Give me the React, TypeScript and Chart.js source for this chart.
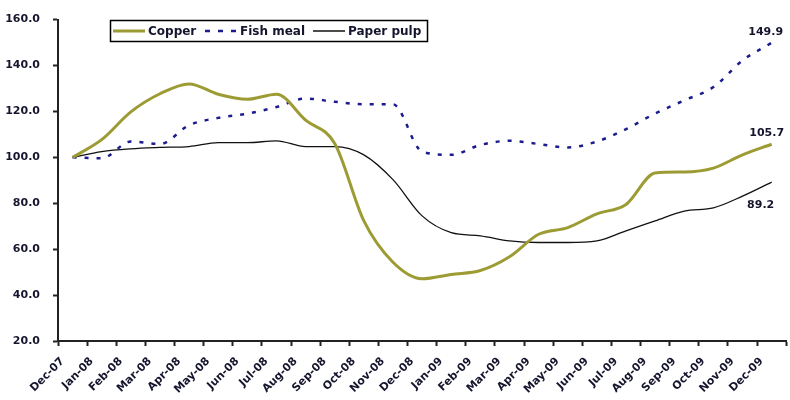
import React, { useEffect, useRef } from "react";
import { Chart, registerables } from "chart.js";

Chart.register(...registerables);

const months = [
  "Dec-07", "Jan-08", "Feb-08", "Mar-08", "Apr-08", "May-08", "Jun-08", "Jul-08", "Aug-08",
  "Sep-08", "Oct-08", "Nov-08", "Dec-08", "Jan-09", "Feb-09", "Mar-09", "Apr-09", "May-09",
  "Jun-09", "Jul-09", "Aug-09", "Sep-09", "Oct-09", "Nov-09", "Dec-09",
];

const copper = [
  100, 107.7, 119.8, 127.7, 132, 127.5, 125.3, 127.5, 116.2, 106, 72.3, 54.3, 47.1,
  49, 50.7, 56.7, 66.5, 69.4, 75.4, 79.5, 93.2, 93.6, 95.3, 101.1, 105.7,
];

const fishMeal = [
  100, 99.6, 106.9, 105.8, 114, 117.2, 119, 121.9, 125.6, 124.2, 123.1, 123.1, 102.5,
  101.1, 105.4, 107.2, 105.8, 104.3, 106.9, 112.3, 119.1, 124.8, 130.6, 142.2, 149.9,
];

const paperPulp = [
  100, 102.5, 103.7, 104.3, 104.7, 106.4, 106.4, 107.2, 104.7, 104.7, 101.1, 90.3, 74.5,
  67.2, 65.8, 63.6, 62.9, 62.9, 63.6, 68, 72.3, 76.6, 78, 83.1, 89.2,
];

const seriesNames = ["Copper", "Fish meal", "Paper pulp"];
const endLabels = ["105.7", "149.9", "89.2"];

const COPPER = "#9c9b34";
const FISH = "#1c1c8e";
const PULP = "#111111";
const TEXT = "#15152e";
const FONT = "'DejaVu Sans', sans-serif";

const legendPlugin = {
  id: "boxLegend",
  afterDraw(chart: any) {
    const ctx = chart.ctx;
    ctx.save();
    ctx.strokeStyle = "#000";
    ctx.lineWidth = 1.5;
    ctx.strokeRect(110.5, 20.5, 317, 21);
    const y = 31;
    const items = [
      { x: 113, color: COPPER, width: 3, dash: [] as number[], label: seriesNames[0] },
      { x: 205, color: FISH, width: 2.5, dash: [5, 8], label: seriesNames[1] },
      { x: 313, color: PULP, width: 1.5, dash: [] as number[], label: seriesNames[2] },
    ];
    ctx.font = `bold 12px ${FONT}`;
    ctx.textBaseline = "middle";
    ctx.textAlign = "left";
    for (const it of items) {
      ctx.beginPath();
      ctx.setLineDash(it.dash);
      ctx.strokeStyle = it.color;
      ctx.lineWidth = it.width;
      ctx.moveTo(it.x, y);
      ctx.lineTo(it.x + 32, y);
      ctx.stroke();
      ctx.setLineDash([]);
      ctx.fillStyle = TEXT;
      ctx.fillText(it.label, it.x + 35, y + 0.5);
    }
    ctx.restore();
  },
};

const endLabelPlugin = {
  id: "endLabels",
  afterDatasetsDraw(chart: any) {
    const ctx = chart.ctx;
    ctx.save();
    ctx.font = `bold 11px ${FONT}`;
    ctx.fillStyle = TEXT;
    ctx.textAlign = "center";
    ctx.textBaseline = "middle";
    const offsets = [
      { dx: -5, dy: -11 },
      { dx: -6, dy: -11 },
      { dx: -11, dy: 23 },
    ];
    chart.data.datasets.forEach((ds: any, i: number) => {
      const meta = chart.getDatasetMeta(i);
      const pt = meta.data[meta.data.length - 1];
      if (!pt) return;
      ctx.fillText(endLabels[i], pt.x + offsets[i].dx, pt.y + offsets[i].dy);
    });
    ctx.restore();
  },
};

export default function App() {
  const ref = useRef<HTMLCanvasElement | null>(null);

  useEffect(() => {
    if (!ref.current) return;
    const chart = new Chart(ref.current, {
      type: "line",
      data: {
        labels: months,
        datasets: [
          {
            label: seriesNames[0],
            data: copper,
            borderColor: COPPER,
            borderWidth: 3,
            pointRadius: 0,
            cubicInterpolationMode: "monotone",
            fill: false,
          },
          {
            label: seriesNames[1],
            data: fishMeal,
            borderColor: FISH,
            borderWidth: 2.5,
            borderDash: [4, 8],
            pointRadius: 0,
            cubicInterpolationMode: "monotone",
            fill: false,
          },
          {
            label: seriesNames[2],
            data: paperPulp,
            borderColor: PULP,
            borderWidth: 1.3,
            pointRadius: 0,
            cubicInterpolationMode: "monotone",
            fill: false,
          },
        ],
      },
      options: {
        animation: false,
        responsive: false,
        maintainAspectRatio: false,
        layout: { padding: { top: 17, right: 0, left: 0, bottom: 0 } },
        plugins: {
          legend: { display: false },
          tooltip: { enabled: false },
        },
        scales: {
          x: {
            type: "category",
            offset: true,
            border: { display: true, color: "#222", width: 2 },
            grid: {
              offset: true,
              drawOnChartArea: false,
              drawTicks: true,
              tickLength: 5,
              tickWidth: 2,
              tickColor: "#222",
            },
            ticks: {
              autoSkip: false,
              maxRotation: 45,
              minRotation: 45,
              labelOffset: -10,
              padding: 9,
              color: TEXT,
              font: { family: FONT, size: 11, weight: "bold" },
            },
            afterFit(scale: any) {
              scale.height = 59;
            },
          },
          y: {
            min: 20,
            max: 160,
            border: { display: true, color: "#222", width: 2 },
            grid: {
              drawOnChartArea: false,
              drawTicks: true,
              tickLength: 5,
              tickWidth: 2,
              tickColor: "#222",
            },
            ticks: {
              stepSize: 20,
              padding: 13,
              color: TEXT,
              font: { family: FONT, size: 11, weight: "bold" },
              callback: (v: any) => Number(v).toFixed(1),
            },
            afterFit(scale: any) {
              scale.width = 58;
            },
          },
        },
      },
      plugins: [legendPlugin, endLabelPlugin],
    });
    return () => chart.destroy();
  }, []);

  return (
    <div style={{ position: "fixed", left: 0, top: 0, width: 790, height: 400, background: "#fff" }}>
      <canvas ref={ref} width={790} height={400} style={{ width: 790, height: 400 }} />
    </div>
  );
}
